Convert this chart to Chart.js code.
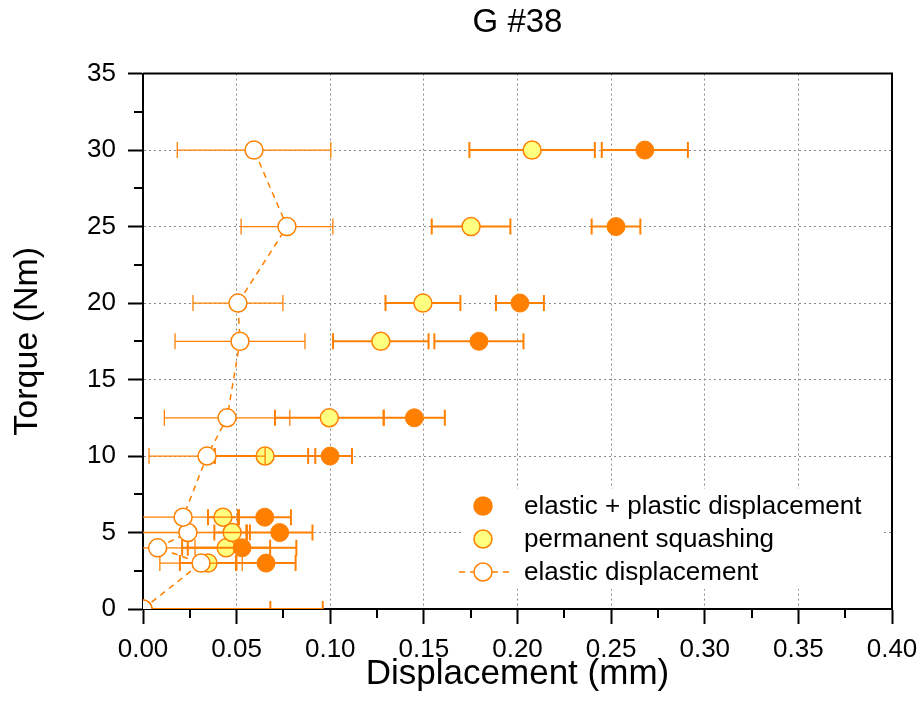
<!DOCTYPE html>
<html>
<head>
<meta charset="utf-8">
<script src="https://cdn.jsdelivr.net/npm/chart.js@4.4.1/dist/chart.umd.min.js"></script>
<style>
  html, body { margin: 0; padding: 0; background: #fff; }
  #wrap { width: 923px; height: 722px; }
</style>
</head>
<body>
<div id="wrap"><canvas id="chart"></canvas></div>
<script>
// Torque levels (Nm), shared by all three series
const torque = [0, 3, 4, 5, 6, 10, 12.5, 17.5, 20, 25, 30];

// elastic + plastic displacement (mm) and its x error
const totalDisp = [0, 0.0657, 0.0529, 0.073, 0.065, 0.0999, 0.1449, 0.1794, 0.2013, 0.2526, 0.268];
const totalErr  = [0.096, 0.0158, 0.029, 0.0175, 0.014, 0.0117, 0.0163, 0.0238, 0.0128, 0.013, 0.023];

// permanent squashing (mm)
const squashDisp = [0, 0.0347, 0.0444, 0.0476, 0.0427, 0.0652, 0.0995, 0.127, 0.1495, 0.1752, 0.2078];
const squashErr  = [0.068, 0.015, 0.0235, 0.0095, 0.008, 0.0268, 0.029, 0.0255, 0.020, 0.021, 0.0335];

// elastic displacement (mm)
const elasticDisp = [0, 0.031, 0.0078, 0.024, 0.0214, 0.0342, 0.0449, 0.0518, 0.0507, 0.0769, 0.0593];
const elasticErr  = [0, 0.022, 0.02, 0.031, 0.03, 0.031, 0.0335, 0.0347, 0.024, 0.0245, 0.041];

const xTicks = { min: 0, max: 0.4, step: 0.05 };
const yTicks = { min: 0, max: 35, step: 5 };

const ORANGE = '#ff8000';
const FONT = "'Liberation Sans', Arial, sans-serif";

const toPoints = (xs) => xs.map((v, i) => ({ x: v, y: torque[i] }));

/* error bars drawn just before each dataset's own points */
const errorBars = {
  id: 'errorBars',
  beforeDatasetDraw(chart, args) {
    const ds = chart.data.datasets[args.index];
    if (!ds.errors) return;
    const { ctx, chartArea: a, scales: { x, y } } = chart;
    ctx.save();
    ctx.beginPath();
    ctx.rect(a.left, a.top, a.right - a.left, a.bottom - a.top);
    ctx.clip();
    ctx.strokeStyle = ORANGE;
    ctx.lineWidth = ds.errWidth;
    ds.data.forEach((p, i) => {
      const e = ds.errors[i];
      if (!e) return;
      const x0 = x.getPixelForValue(p.x - e);
      const x1 = x.getPixelForValue(p.x + e);
      const py = y.getPixelForValue(p.y);
      ctx.beginPath();
      ctx.moveTo(x0, py); ctx.lineTo(x1, py);
      ctx.moveTo(x0, py - 8); ctx.lineTo(x0, py + 8);
      ctx.moveTo(x1, py - 8); ctx.lineTo(x1, py + 8);
      ctx.stroke();
    });
    ctx.restore();
  }
};

/* frame, minor ticks and the in-plot legend */
const decorations = {
  id: 'decorations',
  afterDraw(chart) {
    const { ctx, chartArea: a, scales: { x, y } } = chart;
    ctx.save();
    ctx.strokeStyle = '#000';
    ctx.lineWidth = 2;
    ctx.beginPath();
    ctx.moveTo(a.left, a.top); ctx.lineTo(a.right, a.top); ctx.lineTo(a.right, a.bottom);
    ctx.stroke();

    // minor ticks
    ctx.beginPath();
    for (let v = xTicks.min + xTicks.step / 2; v < xTicks.max; v += xTicks.step) {
      const px = Math.round(x.getPixelForValue(v));
      ctx.moveTo(px, a.bottom); ctx.lineTo(px, a.bottom + 9);
    }
    for (let v = yTicks.min + yTicks.step / 2; v < yTicks.max; v += yTicks.step) {
      const py = Math.round(y.getPixelForValue(v));
      ctx.moveTo(a.left, py); ctx.lineTo(a.left - 9, py);
    }
    ctx.stroke();

    // legend
    ctx.fillStyle = '#fff';
    ctx.fillRect(462, 489, 420, 100);
    const rows = [506, 539, 572];
    const mx = 483;
    ctx.font = '26px ' + FONT;
    ctx.textBaseline = 'middle';
    chart.data.datasets.forEach((ds, i) => {
      const ry = rows[i];
      if (ds.showLine) {
        ctx.save();
        ctx.strokeStyle = ORANGE;
        ctx.lineWidth = 1.5;
        ctx.setLineDash([6, 5]);
        ctx.beginPath(); ctx.moveTo(459, ry); ctx.lineTo(510, ry); ctx.stroke();
        ctx.restore();
      }
      ctx.beginPath();
      ctx.arc(mx, ry, 9, 0, Math.PI * 2);
      ctx.fillStyle = ds.pointBackgroundColor;
      ctx.fill();
      ctx.lineWidth = 1.5;
      ctx.strokeStyle = ORANGE;
      ctx.stroke();
      ctx.fillStyle = '#000';
      ctx.fillText(ds.label, 524, ry + 1);
    });
    ctx.restore();
  }
};

const axisCommon = {
  type: 'linear',
  grid: {
    color: '#8a8a8a', lineWidth: 1,
    tickColor: '#000', tickWidth: 2, tickLength: 15
  },
  border: { display: true, color: '#000', width: 2, dash: [2, 3] }
};

new Chart(document.getElementById('chart'), {
  type: 'scatter',
  data: {
    datasets: [
      {
        label: 'elastic + plastic displacement',
        data: toPoints(totalDisp),
        errors: totalErr, errWidth: 2,
        pointRadius: 9, pointHoverRadius: 9,
        pointBackgroundColor: ORANGE, pointBorderColor: ORANGE, pointBorderWidth: 1,
        showLine: false, clip: 0, order: 1
      },
      {
        label: 'permanent squashing',
        data: toPoints(squashDisp),
        errors: squashErr, errWidth: 2,
        pointRadius: 9, pointHoverRadius: 9,
        pointBackgroundColor: '#ffff80', pointBorderColor: ORANGE, pointBorderWidth: 1.5,
        showLine: false, clip: 0, order: 2
      },
      {
        label: 'elastic displacement',
        data: toPoints(elasticDisp),
        errors: elasticErr, errWidth: 1.3,
        pointRadius: 9, pointHoverRadius: 9,
        pointBackgroundColor: '#ffffff', pointBorderColor: ORANGE, pointBorderWidth: 1.5,
        showLine: true, borderColor: ORANGE, borderWidth: 1.5, borderDash: [6, 5],
        clip: 0, order: 0
      }
    ]
  },
  options: {
    responsive: true, maintainAspectRatio: false,
    animation: false, devicePixelRatio: 1,
    layout: { padding: { left: 0, right: 31, top: 0, bottom: 0 } },
    plugins: {
      legend: { display: false },
      tooltip: { enabled: false },
      title: {
        display: true, text: 'G #38', color: '#000', fullSize: false,
        font: { family: FONT, size: 33, weight: 'normal' },
        padding: { top: 3, bottom: 31 }
      }
    },
    scales: {
      x: {
        ...axisCommon,
        min: xTicks.min, max: xTicks.max,
        ticks: {
          stepSize: xTicks.step, color: '#000', padding: 10,
          font: { family: FONT, size: 26 },
          callback: (v) => Number(v).toFixed(2)
        },
        title: {
          display: true, text: 'Displacement (mm)', color: '#000',
          font: { family: FONT, size: 35 }, padding: { top: 4, bottom: 27 }
        },
        afterFit: (s) => { s.height = 113; s.paddingRight = 0; }
      },
      y: {
        ...axisCommon,
        min: yTicks.min, max: yTicks.max,
        ticks: {
          stepSize: yTicks.step, color: '#000', padding: 12,
          font: { family: FONT, size: 26 }
        },
        title: {
          display: true, text: 'Torque (Nm)', color: '#000',
          font: { family: FONT, size: 34 }, padding: { top: 7, bottom: 4 }
        },
        afterFit: (s) => { s.width = 143; }
      }
    }
  },
  plugins: [errorBars, decorations]
});
</script>
</body>
</html>
